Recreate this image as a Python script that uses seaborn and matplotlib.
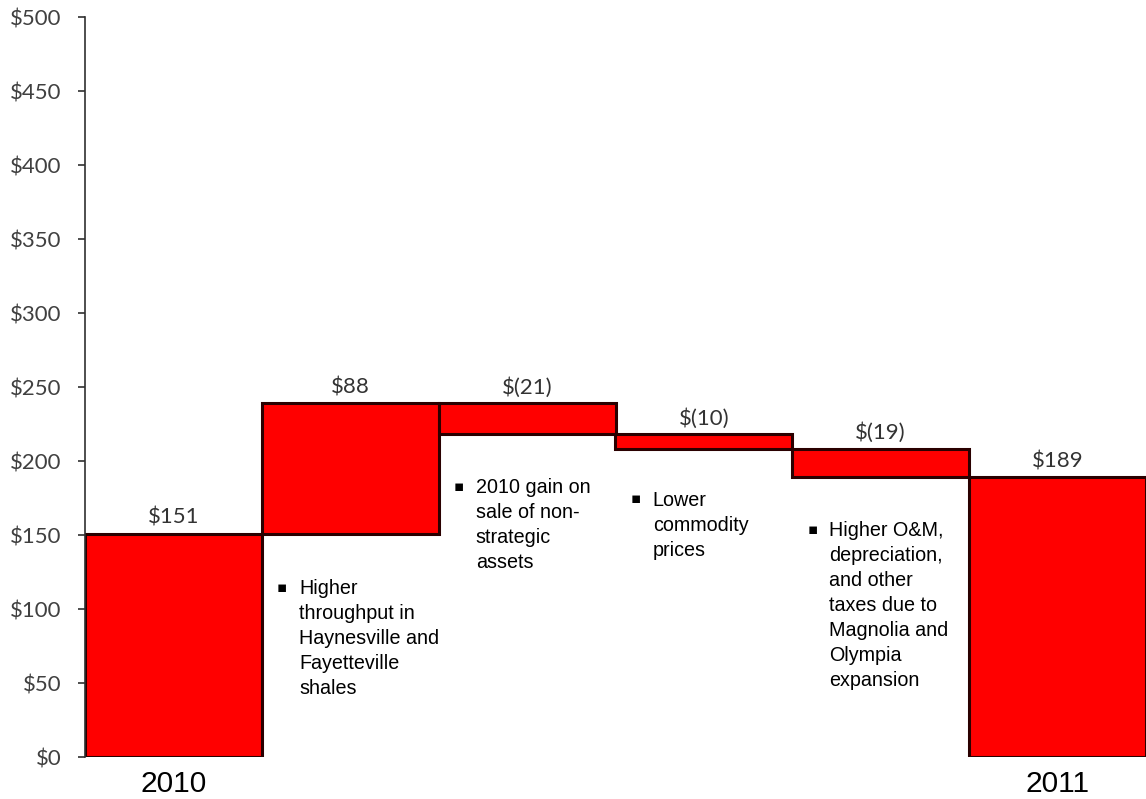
import numpy as np
import pandas as pd
import matplotlib
matplotlib.use("Agg")
import matplotlib.pyplot as plt
import seaborn as sns

# waterfall data (millions)
steps = ["2010", "Throughput", "Asset sale", "Commodity", "O&M", "2011"]
changes = [151, 88, -21, -10, -19, 189]
is_total = [True, False, False, False, False, True]
value_labels = ["$151", "$88", "$(21)", "$(10)", "$(19)", "$189"]
tick_labels = ["2010", "", "", "", "", "2011"]

notes = [
    (1, "Higher\nthroughput in\nHaynesville and\nFayetteville\nshales"),
    (2, "2010 gain on\nsale of non-\nstrategic\nassets"),
    (3, "Lower\ncommodity\nprices"),
    (4, "Higher O&M,\ndepreciation,\nand other\ntaxes due to\nMagnolia and\nOlympia\nexpansion"),
]
# how far below the bar each note starts (data units)
note_gap = {1: 31, 2: 29.4, 3: 28, 4: 29.8}

# bottoms / heights for the floating bars
bottoms = []
heights = []
running = 0
for c, tot in zip(changes, is_total):
    if tot:
        bottoms.append(0)
        heights.append(c)
        running = c
    else:
        new = running + c
        bottoms.append(min(running, new))
        heights.append(abs(c))
        running = new
tops = [b + h for b, h in zip(bottoms, heights)]

df = pd.DataFrame({"step": steps, "height": heights, "bottom": bottoms})

sns.set_style("white")
plt.rcParams["font.family"] = ["Lato", "DejaVu Sans"]

fig = plt.figure(figsize=(11.46, 7.99), dpi=100)
ax = fig.add_axes([85 / 1146, 42 / 799, 1 - 85 / 1146, 740 / 799])

sns.barplot(data=df, x="step", y="height", bottom=df["bottom"].values,
            color="#ff0000", saturation=1, width=1.0,
            edgecolor="#2a0000", linewidth=2.2, ax=ax)

ax.set_xlim(-0.5, 5.5)
ax.set_ylim(0, 500)
ax.set_yticks(np.arange(0, 501, 50))
ax.set_yticklabels([f"${v}" for v in range(0, 501, 50)], color="#404040", fontsize=16)
ax.set_xticks(range(len(steps)))
ax.set_xticklabels(tick_labels, fontsize=21.5, family="Liberation Sans", color="black")
ax.tick_params(axis="x", length=0, pad=9)
ax.tick_params(axis="y", direction="out", length=5, width=1.2, color="#303030", pad=12, left=True)
ax.set_xlabel("")
ax.set_ylabel("")
for s in ["top", "right", "bottom"]:
    ax.spines[s].set_visible(False)
ax.spines["left"].set_color("#303030")
ax.spines["left"].set_linewidth(1.2)

# value labels above each bar
for i, lab in enumerate(value_labels):
    ax.text(i, tops[i] + 4, lab, ha="center", va="bottom", fontsize=16, color="#333333")

# bullet notes under floating bars
for i, txt in notes:
    y0 = bottoms[i] - note_gap[i]
    ax.text(i - 0.385, y0 - 0.5, "\u25aa", ha="center", va="top", fontsize=11,
            family="DejaVu Sans", color="black")
    ax.text(i - 0.29, y0, txt, ha="left", va="top", fontsize=14.2,
            family="Liberation Sans", color="black", linespacing=1.4)

fig.savefig("out.png", dpi=100)
